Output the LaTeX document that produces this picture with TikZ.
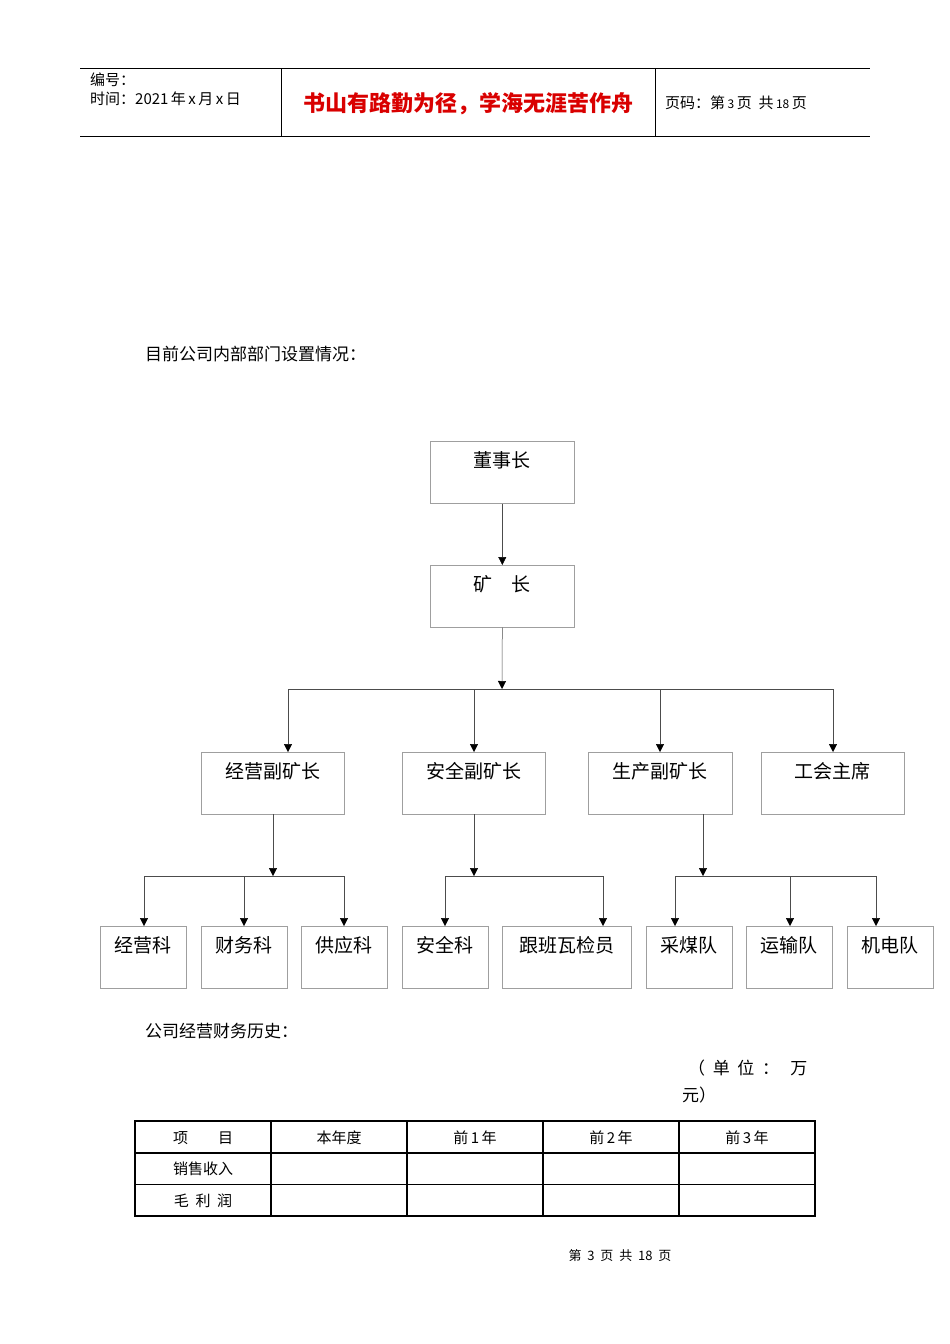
\documentclass[tikz,border=0pt]{standalone}
\usepackage{fontspec}
\setmainfont{Liberation Sans}
\newfontfamily\cjk{Noto Sans CJK SC}
\usetikzlibrary{arrows.meta}
\begin{document}
\begin{tikzpicture}[x=1pt,y=-1pt,
  bx/.style={draw=gray!75,line width=0.6pt,anchor=north west,inner sep=0pt,font=\cjk\fontsize{19}{19}\selectfont},
  lbl/.style={anchor=north,font=\cjk\fontsize{19}{19}\selectfont,inner sep=0pt},
  con/.style={draw=gray!60!black,line width=0.5pt},
  arr/.style={con,-{Triangle[length=8pt,width=8pt,fill=black,color=black]}},
  txt/.style={anchor=west,inner sep=0pt,font=\cjk\fontsize{15}{15}\selectfont}]
\useasboundingbox[fill=white] (0,0) rectangle (950,1344);
% header
\draw[line width=0.6pt] (80,68) -- (870,68) (80,136) -- (870,136) (281,68) -- (281,136) (655,68) -- (655,136);
\node[txt,font=\cjk\fontsize{15}{15}\selectfont] (h1) at (90,80) {编号：};
\node[txt,font=\cjk\fontsize{15}{15}\selectfont] (h2) at (90,99) {时间：2021\,年\,x\,月\,x\,日};
\node[inner sep=0pt,text=red!85!black,font=\cjk\bfseries\fontsize{22}{22}\selectfont] (h3) at (468,104) {书山有路勤为径，学海无涯苦作舟};
\node[txt,font=\cjk\fontsize{15}{15}\selectfont] (h4) at (665,103) {页码：第\,{\fontsize{12}{12}\selectfont 3}\,页\ \ 共\,{\fontsize{12}{12}\selectfont 18}\,页};
\node[txt,font=\cjk\fontsize{17}{17}\selectfont] (t1) at (145,354) {目前公司内部部门设置情况：};
% boxes
\foreach \n/\x/\y/\w/\t in {a/430/441/144/董事长, b/430/565/144/矿\quad 长,
  c1/201/752/143/经营副矿长, c2/402/752/143/安全副矿长, c3/588/752/144/生产副矿长, c4/761/752/143/工会主席,
  d1/100/926/86/经营科, d2/201/926/86/财务科, d3/301/926/86/供应科, d4/402/926/86/安全科,
  d5/502/926/129/跟班瓦检员, d6/646/926/86/采煤队, d7/746/926/86/运输队, d8/847/926/86/机电队}{
  \node[bx,minimum width=\w pt,minimum height=62pt] (\n) at (\x,\y) {};
  \node[lbl] (\n t) at ([yshift=-10pt]\n.north) {\t};
}
\draw[arr] (a.south) -- (b.north);
\coordinate (j1) at (502,689);
\draw[arr] (b.south) -- (j1);
\draw[con] (288,689) -- (833,689);
\foreach \x in {288,474,660,833} \draw[arr] (\x,689) -- (\x,752);
% level 3
\coordinate (k1) at (273,876); \coordinate (k2) at (474,876); \coordinate (k3) at (703,876);
\draw[arr] (273,814) -- (k1);
\draw[arr] (474,814) -- (k2);
\draw[arr] (703,814) -- (k3);
\draw[con] (144,876) -- (344,876) (445,876) -- (603,876) (675,876) -- (876,876);
\foreach \x in {144,244,344,445,603,675,790,876} \draw[arr] (\x,876) -- (\x,926);
% finance
\node[txt,font=\cjk\fontsize{17}{17}\selectfont] (t2) at (145,1031) {公司经营财务历史：};
\node[txt,font=\cjk\fontsize{17}{17}\selectfont] (u1) at (688,1068) {（\ \ 单\ \ 位\ \ ：\ \ \ 万};
\node[txt,font=\cjk\fontsize{17}{17}\selectfont] (u2) at (682,1095) {元）};
\draw[line width=1.6pt] (135,1121) rectangle (815,1216);
\draw[line width=0.6pt] (135,1184) -- (815,1184);
\foreach \x in {271,407,543,679} \draw[line width=1.2pt] (\x,1121) -- (\x,1216);
\draw[line width=1.2pt] (135,1153) -- (815,1153);
\foreach \x/\t in {203/项\qquad 目, 339/本年度, 475/前\,1\,年, 611/前\,2\,年, 747/前\,3\,年}
  \node[inner sep=0pt,font=\cjk\fontsize{15}{15}\selectfont] at (\x,1138) {\t};
\node[inner sep=0pt,font=\cjk\fontsize{15}{15}\selectfont] (r1) at (203,1169) {销售收入};
\node[inner sep=0pt,font=\cjk\fontsize{15}{15}\selectfont] (r2) at (203,1201) {毛\ \ 利\ \ 润};
\node[inner sep=0pt,font=\cjk\fontsize{13}{13}\selectfont] (ft) at (620,1256) {第\ \ 3\ \ 页\ \ 共\ \ 18\ \ 页};
\end{tikzpicture}
\end{document}
